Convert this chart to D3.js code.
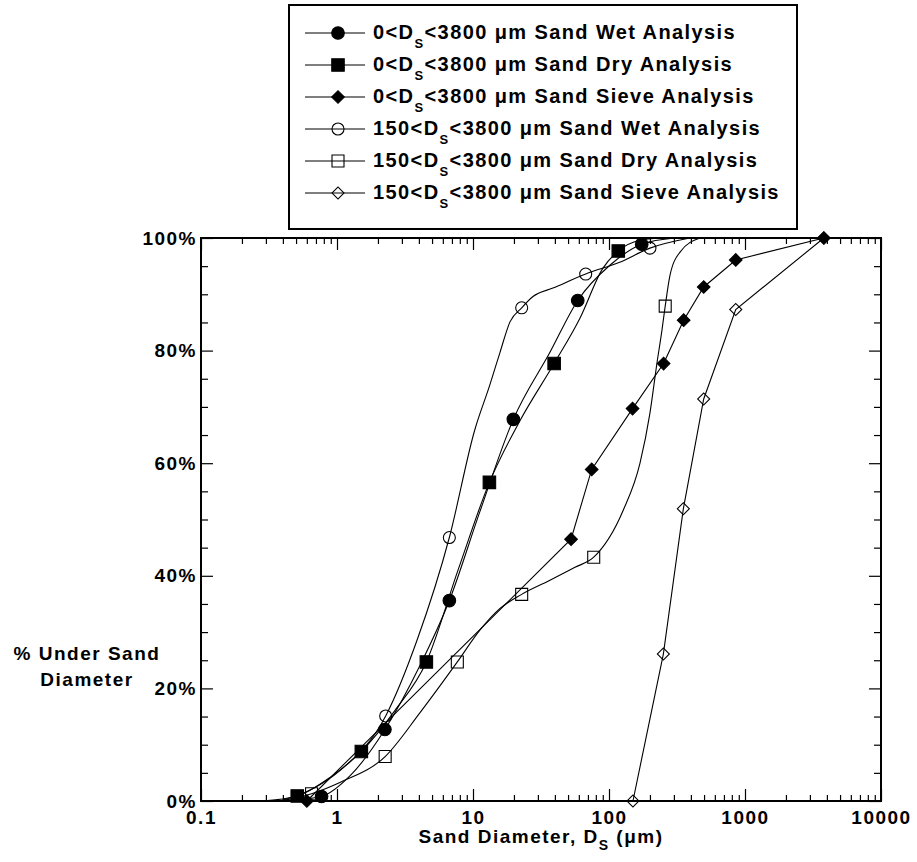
<!DOCTYPE html>
<html>
<head>
<meta charset="utf-8">
<script src="https://cdn.jsdelivr.net/npm/d3@7"></script>
<style>
  body { margin: 0; background: #fff; }
  svg { display: block; }
  text { font-family: "Liberation Sans", Arial, sans-serif; font-weight: bold; fill: #000; }
</style>
</head>
<body>
<svg width="917" height="862"></svg>
<script>
// axis ticks
const xTicks = [0.1, 1, 10, 100, 1000, 10000];
const yTicks = [0, 20, 40, 60, 80, 100];

// legend text
const legendLower = ['0', '0', '0', '150', '150', '150'];
const legendKind = ['Wet', 'Dry', 'Sieve', 'Wet', 'Dry', 'Sieve'];

// marked points [diameter um, % under]
const wet0Points = [[0.77, 0.8], [2.25, 12.7], [6.7, 35.6], [19.8, 67.8], [58.9, 88.9], [174, 98.9]];
const dry0Points = [[0.51, 0.9], [1.51, 8.8], [4.54, 24.7], [13.2, 56.6], [39.5, 77.7], [117, 97.7]];
const sieve0Points = [[0.6, 0], [52.6, 46.5], [74.6, 58.9], [149, 69.7], [252, 77.7], [354, 85.4], [497, 91.3], [855, 96.1], [3800, 100]];
const wet150Points = [[2.28, 15.1], [6.7, 46.8], [22.8, 87.6], [67.4, 93.6], [200, 98.2]];
const dry150Points = [[0.65, 1.3], [2.26, 7.9], [7.67, 24.7], [22.8, 36.7], [77.2, 43.3], [259, 87.9]];
const sieve150Points = [[150, 0], [251, 26.1], [352, 51.9], [497, 71.4], [855, 87.3], [3800, 100]];

// full distribution curves (wet / dry analyses)
const wet0Curve = [[0.32, 0], [0.54, 0.3], [0.77, 0.8], [1.25, 4.5], [2.25, 12.7], [4.1, 24.2], [6.7, 35.6],
  [11.2, 51.3], [19.8, 67.8], [36.8, 79.7], [58.9, 88.9], [102, 95.2], [174, 98.9], [305, 100]];
const dry0Curve = [[0.28, 0], [0.51, 0.9], [0.89, 4.2], [1.51, 8.8], [2.67, 16.1], [4.54, 24.7], [7.76, 41.0],
  [13.2, 56.6], [22.2, 67.6], [39.5, 77.7], [61, 85.7], [90, 94.6], [117, 97.7], [169, 99.6], [237, 100]];
const wet150Curve = [[0.38, 0], [0.63, 1.9], [1.05, 5.4], [2.28, 15.1], [3.87, 28.5], [6.7, 46.8], [10.3, 65.9],
  [13.3, 73.9], [15.8, 79.7], [18.7, 85.1], [22.8, 87.6], [27.6, 89.6], [38.7, 91.1], [67.4, 93.6], [120, 95.7],
  [200, 98.2], [394, 100]];
const dry150Curve = [[0.38, 0], [0.65, 1.3], [1.05, 3.3], [2.26, 7.9], [4.08, 15.7], [7.67, 24.7], [11.2, 30.3],
  [15.8, 34.2], [22.8, 36.7], [36.8, 39.2], [56.2, 41.5], [77.2, 43.3], [127, 51.6], [169, 60.0], [200, 68.9],
  [225, 77.7], [245, 83.6], [259, 87.9], [281, 93.4], [333, 97.5], [467, 100]];

const svg = d3.select('svg');
const width = +svg.attr('width');
const height = +svg.attr('height');

const margin = { top: 238, right: 36, bottom: 61, left: 201 };
const innerWidth = width - margin.left - margin.right;
const innerHeight = height - margin.top - margin.bottom;
const spacing = 1.5;

const xScale = d3.scaleLog().domain([0.1, 10000]).range([0, innerWidth]);
const yScale = d3.scaleLinear().domain([0, 100]).range([innerHeight, 0]);

const xMinor = [];
[0.1, 1, 10, 100, 1000].forEach(d => { for (let k = 2; k < 10; k++) xMinor.push(d * k); });
const yMinor = d3.range(0, 101, 5).filter(v => v % 20 !== 0);

const g = svg.append('g')
  .attr('transform', `translate(${margin.left},${margin.top})`);

const styleAxis = (sel, fontSize) => {
  sel.select('.domain').remove();
  sel.attr('font-family', null).attr('font-size', fontSize);
  sel.selectAll('line').attr('stroke-width', 1.2);
  sel.selectAll('text').attr('letter-spacing', spacing);
};

// bottom / top
g.append('g').attr('transform', `translate(0,${innerHeight})`)
  .call(d3.axisBottom(xScale).tickValues(xTicks).tickSize(-12).tickPadding(10).tickFormat(d => d))
  .call(styleAxis, 19);
g.append('g').attr('transform', `translate(0,${innerHeight})`)
  .call(d3.axisBottom(xScale).tickValues(xMinor).tickSize(-6).tickFormat(''))
  .call(styleAxis, 19);
g.append('g')
  .call(d3.axisTop(xScale).tickValues(xTicks).tickSize(-12).tickFormat(''))
  .call(styleAxis, 19);
g.append('g')
  .call(d3.axisTop(xScale).tickValues(xMinor).tickSize(-6).tickFormat(''))
  .call(styleAxis, 19);

// left / right
g.append('g')
  .call(d3.axisLeft(yScale).tickValues(yTicks).tickSize(-12).tickPadding(4).tickFormat(d => d + '%'))
  .call(styleAxis, 19);
g.append('g')
  .call(d3.axisLeft(yScale).tickValues(yMinor).tickSize(-7).tickFormat(''))
  .call(styleAxis, 19);
g.append('g').attr('transform', `translate(${innerWidth},0)`)
  .call(d3.axisRight(yScale).tickValues(yTicks).tickSize(-12).tickFormat(''))
  .call(styleAxis, 19);
g.append('g').attr('transform', `translate(${innerWidth},0)`)
  .call(d3.axisRight(yScale).tickValues(yMinor).tickSize(-7).tickFormat(''))
  .call(styleAxis, 19);

g.append('rect')
  .attr('width', innerWidth)
  .attr('height', innerHeight)
  .attr('fill', 'none')
  .attr('stroke', 'black')
  .attr('stroke-width', 2);

// axis titles
const xTitle = svg.append('text')
  .attr('x', margin.left + innerWidth / 2)
  .attr('y', 843)
  .attr('text-anchor', 'middle')
  .attr('letter-spacing', spacing)
  .attr('font-size', 19);
xTitle.append('tspan').text('Sand Diameter, D');
xTitle.append('tspan').attr('dy', 7).attr('font-size', 14).text('S');
xTitle.append('tspan').attr('dy', -7).text(' (μm)');

svg.append('text')
  .attr('x', 87)
  .attr('y', 660)
  .attr('text-anchor', 'middle')
  .attr('letter-spacing', spacing)
  .attr('font-size', 19)
  .text('% Under Sand');
svg.append('text')
  .attr('x', 87)
  .attr('y', 686)
  .attr('text-anchor', 'middle')
  .attr('letter-spacing', spacing)
  .attr('font-size', 19)
  .text('Diameter');

// markers
const markerShapes = {
  circle: { type: d3.symbolCircle, size: 125, fill: 'black', rotate: 0 },
  square: { type: d3.symbolSquare, size: 156, fill: 'black', rotate: 0 },
  diamond: { type: d3.symbolSquare, size: 80, fill: 'black', rotate: 45 },
  circleOpen: { type: d3.symbolCircle, size: 113, fill: 'none', rotate: 0 },
  squareOpen: { type: d3.symbolSquare, size: 144, fill: 'none', rotate: 0 },
  diamondOpen: { type: d3.symbolSquare, size: 72, fill: 'none', rotate: 45 }
};

const series = [
  { points: wet0Points, curve: wet0Curve, marker: 'circle' },
  { points: dry0Points, curve: dry0Curve, marker: 'square' },
  { points: sieve0Points, curve: null, marker: 'diamond' },
  { points: wet150Points, curve: wet150Curve, marker: 'circleOpen' },
  { points: dry150Points, curve: dry150Curve, marker: 'squareOpen' },
  { points: sieve150Points, curve: null, marker: 'diamondOpen' }
];

const smoothLine = d3.line()
  .x(d => xScale(d[0]))
  .y(d => yScale(d[1]))
  .curve(d3.curveMonotoneX);
const straightLine = d3.line()
  .x(d => xScale(d[0]))
  .y(d => yScale(d[1]));

series.forEach(s => {
  g.append('path')
    .attr('d', s.curve ? smoothLine(s.curve) : straightLine(s.points))
    .attr('fill', 'none')
    .attr('stroke', 'black')
    .attr('stroke-width', 1.1);
});

const drawMarker = (sel, name) => {
  const m = markerShapes[name];
  sel.attr('d', d3.symbol().type(m.type).size(m.size)())
    .attr('fill', m.fill)
    .attr('stroke', 'black')
    .attr('stroke-width', 1.1);
};

series.forEach(s => {
  g.selectAll(null)
    .data(s.points)
    .enter().append('path')
      .attr('transform', d => `translate(${xScale(d[0])},${yScale(d[1])}) rotate(${markerShapes[s.marker].rotate})`)
      .call(drawMarker, s.marker);
});

// legend
svg.append('rect')
  .attr('x', 289)
  .attr('y', 5)
  .attr('width', 508)
  .attr('height', 224)
  .attr('fill', 'white')
  .attr('stroke', 'black')
  .attr('stroke-width', 2);

series.forEach((s, i) => {
  const rowY = 33 + i * 32;
  svg.append('line')
    .attr('x1', 305).attr('x2', 365)
    .attr('y1', rowY).attr('y2', rowY)
    .attr('stroke', 'black')
    .attr('stroke-width', 1.1);
  svg.append('path')
    .attr('transform', `translate(338,${rowY}) rotate(${markerShapes[s.marker].rotate})`)
    .call(drawMarker, s.marker);
  const label = svg.append('text')
    .attr('x', 373)
    .attr('y', rowY + 6)
    .attr('letter-spacing', 1.4)
    .attr('font-size', 20);
  label.append('tspan').text(legendLower[i] + '<D');
  label.append('tspan').attr('dy', 9).attr('font-size', 13).text('S');
  label.append('tspan').attr('dy', -9).text('<3800 μm Sand ' + legendKind[i] + ' Analysis');
});
</script>
</body>
</html>
